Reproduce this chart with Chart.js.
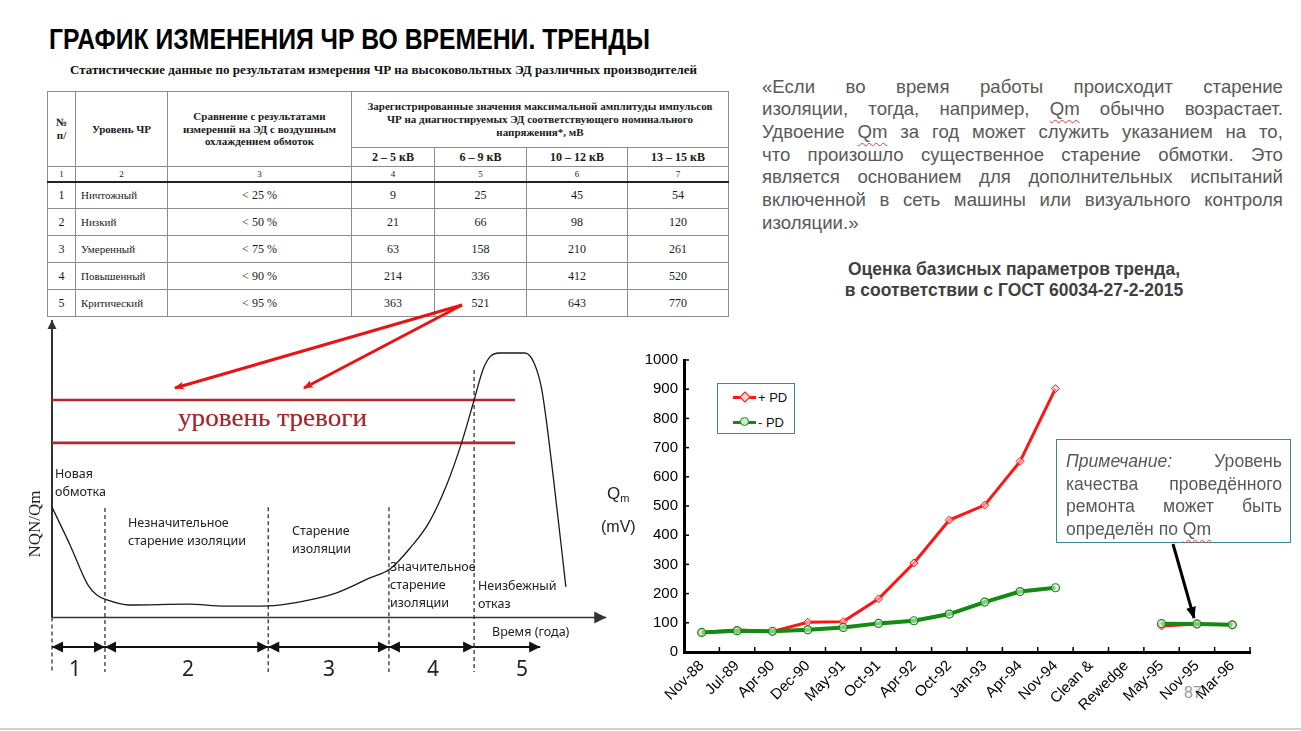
<!DOCTYPE html>
<html lang="ru"><head><meta charset="utf-8">
<script src="https://cdn.jsdelivr.net/npm/chart.js@4.4.1/dist/chart.umd.min.js"></script>
<style>
html,body{margin:0;padding:0;background:#fff}
#page{position:relative;width:1301px;height:731px;overflow:hidden;background:#fff;font-family:'Liberation Sans',Arial,sans-serif}
.abs{position:absolute;white-space:nowrap}
.fit{display:inline-block;transform-origin:0 0}
#title{left:49px;top:22px;font-weight:bold;font-size:29px;line-height:34px;font-family:'Liberation Sans Narrow','Liberation Sans',Arial,sans-serif;color:#000}
#cap{left:70px;top:62px;font:bold 13px/16px 'Liberation Serif','Times New Roman',serif;color:#111}
table.st{position:absolute;left:47px;top:91px;border-collapse:collapse;table-layout:fixed;font-family:'Liberation Serif','Times New Roman',serif;color:#1a1a1a}
table.st td{border:1px solid #8c8c8c;padding:0;text-align:center;vertical-align:middle;overflow:hidden;white-space:nowrap}
table.st .h{font-weight:bold;font-size:11px;line-height:12.8px}
table.st .kv{font-weight:bold;font-size:12px}
table.st .num td{font-size:9px;border-bottom:2px solid #222}
table.st .d td{font-size:12px}
table.st .d td.l{text-align:left;padding-left:5px;font-size:11px}
.q{position:absolute;color:#595959;font-size:18.6px}
.jl{display:flex;justify-content:space-between;white-space:nowrap}
.sp{text-decoration:underline wavy #e03c3c;text-decoration-thickness:1px;text-underline-offset:4px}
.it{font-style:italic}
#sub{left:814px;top:259px;width:400px;text-align:center;font:bold 17.5px/21px 'Liberation Sans',Arial,sans-serif;color:#404040}
#note{position:absolute;left:1056px;top:439px;width:233px;height:102px;border:1.6px solid #3b8a8e;background:#fff}
#legend{position:absolute;left:717px;top:383px;width:76px;height:49px;border:1.5px solid #3b8a8e;background:#fff;font-size:13px;color:#111}
.lg{position:absolute;left:15px;width:23px;height:3px}
.lgt{position:absolute;left:40px;line-height:14px}
.dl{position:absolute;font-family:'Noto Sans','Open Sans',sans-serif;font-size:12.5px;line-height:18px;color:#222;white-space:nowrap;z-index:3}
.sn{position:absolute;font-family:'Noto Sans','Liberation Sans',sans-serif;font-size:21px;line-height:24px;color:#222;z-index:3}
canvas{position:absolute}
</style></head><body><div id="page">

<div id="title" class="abs"><span class="fit" id="titleT">ГРАФИК ИЗМЕНЕНИЯ ЧР ВО ВРЕМЕНИ. ТРЕНДЫ</span></div>
<div id="cap" class="abs"><span class="fit" id="capT">Статистические данные по результатам измерения ЧР на высоковольтных ЭД различных производителей</span></div>

<table class="st" id="tbl">
<colgroup><col style="width:28px"><col style="width:92px"><col style="width:184px"><col style="width:83px"><col style="width:92px"><col style="width:101px"><col style="width:101px"></colgroup>
<tr style="height:56px"><td rowspan="2" class="h">№<br>п/</td><td rowspan="2" class="h">Уровень ЧР</td><td rowspan="2" class="h">Сравнение с результатами<br>измерений на ЭД с воздушным<br>охлаждением обмоток</td><td colspan="4" class="h">Зарегистрированные значения максимальной амплитуды импульсов<br>ЧР на диагностируемых ЭД соответствующего номинального<br>напряжения*, мВ</td></tr>
<tr style="height:19px" id="kvRow"></tr>
<tr style="height:15px" class="num" id="numRow"></tr>
</table>

<div class="q" id="quote" style="left:762px;top:75.6px;width:521px;line-height:22.7px"></div>
<div id="sub" class="abs">Оценка базисных параметров тренда,<br>в соответствии с ГОСТ 60034-27-2-2015</div>

<!-- left diagram -->
<canvas id="stages" width="590" height="380" style="left:20px;top:310px;width:590px;height:380px"></canvas>
<div class="abs" style="left:178px;top:403px;font:26px/30px 'Liberation Serif','Times New Roman',serif;color:#a3262c;text-shadow:0 0 1px rgba(163,38,44,0.5);z-index:3"><span class="fit" id="alarmT">уровень тревоги</span></div>
<div class="abs" style="left:35px;top:524px;transform:translate(-50%,-50%) rotate(-90deg);font:17px/20px 'Liberation Serif','Times New Roman',serif;color:#222;z-index:3">NQN/Qm</div>
<div class="dl" style="left:55px;top:465px">Новая<br>обмотка</div>
<div class="dl" style="left:128px;top:514px">Незначительное<br>старение изоляции</div>
<div class="dl" style="left:292px;top:522px">Старение<br>изоляции</div>
<div class="dl" style="left:390px;top:558px">Значительное<br>старение<br>изоляции</div>
<div class="dl" style="left:478px;top:577px">Неизбежный<br>отказ</div>
<div class="dl" style="left:492px;top:623px">Время (года)</div>
<div class="sn" style="left:69px;top:656px">1</div>
<div class="sn" style="left:182px;top:656px">2</div>
<div class="sn" style="left:323px;top:656px">3</div>
<div class="sn" style="left:427px;top:656px">4</div>
<div class="sn" style="left:516px;top:656px">5</div>

<!-- right chart -->
<div class="abs" style="left:607px;top:484px;font-size:17px;color:#222;line-height:20px">Q<sub style="font-size:11px;vertical-align:-3px">m</sub></div>
<div class="abs" style="left:601px;top:517px;font-size:16px;color:#222;line-height:20px">(mV)</div>
<div class="abs" style="left:1184px;top:684px;font-size:16px;color:#9a9a9a">87</div>
<canvas id="trend" width="630" height="370" style="left:630px;top:345px;width:630px;height:370px"></canvas>
<div id="legend">
  <div class="lg" style="top:12px;background:#ff1414"></div>
  <div style="position:absolute;left:23px;top:9px;width:6px;height:6px;border:1px solid #ff1414;background:#ffd0d0;transform:rotate(45deg)"></div>
  <div class="lgt" style="top:7px">+ PD</div>
  <div class="lg" style="top:37px;background:#138a13"></div>
  <div style="position:absolute;left:22px;top:33px;width:7px;height:7px;border:1.2px solid #138a13;border-radius:50%;background:#d0ecd0"></div>
  <div class="lgt" style="top:32px">- PD</div>
</div>
<div id="note"><div class="q" id="noteT" style="left:9px;top:10px;width:216px;line-height:22.7px;font-size:17.6px"></div></div>

<div class="abs" style="left:0;top:728px;width:1301px;height:2px;background:#d2d2d2"></div>

<svg class="abs" style="left:0;top:0;z-index:5;pointer-events:none" width="1301" height="731">
  <defs>
    <marker id="ra" markerWidth="10" markerHeight="8" refX="9" refY="4" orient="auto" markerUnits="userSpaceOnUse"><path d="M0,0 L10,4 L0,8 L2.5,4 Z" fill="#e81313"/></marker>
    <marker id="ba" markerWidth="12" markerHeight="10" refX="11" refY="5" orient="auto" markerUnits="userSpaceOnUse"><path d="M0,0 L12,5 L0,10 Z" fill="#000"/></marker>
  </defs>
  <line x1="462" y1="305" x2="175" y2="388" stroke="#e81313" stroke-width="3" marker-end="url(#ra)"/>
  <line x1="462" y1="305" x2="304" y2="388" stroke="#e81313" stroke-width="3" marker-end="url(#ra)"/>
  <line x1="1173" y1="544" x2="1194" y2="618" stroke="#000" stroke-width="3" marker-end="url(#ba)"/>
</svg>
</div>

<script>
// ---------- table data ----------
const kvHeaders = ['2 – 5 кВ','6 – 9 кВ','10 – 12 кВ','13 – 15 кВ'];
const colNumbers = ['1','2','3','4','5','6','7'];
const levelNames = ['Ничтожный','Низкий','Умеренный','Повышенный','Критический'];
const levelCompare = ['< 25 %','< 50 %','< 75 %','< 90 %','< 95 %'];
const kv2to5 = [9, 21, 63, 214, 363];
const kv6to9 = [25, 66, 158, 336, 521];
const kv10to12 = [45, 98, 210, 412, 643];
const kv13to15 = [54, 120, 261, 520, 770];

// ---------- trend chart data ----------
const categories = ['Nov-88','Jul-89','Apr-90','Dec-90','May-91','Oct-91','Apr-92','Oct-92','Jan-93','Apr-94','Nov-94','Clean &','Rewedge','May-95','Nov-95','Mar-96'];
const plusPD  = [67, 75, 70, 102, 104, 182, 305, 452, 503, 653, 902, null, null, 89, 96, 93];
const minusPD = [67, 73, 71, 76, 84, 98, 107, 130, 171, 207, 220, null, null, 97, 96, 93];
const yTickMin = 0, yTickMax = 1000, yTickStep = 100;

// ---------- life-stage diagram data (arbitrary units) ----------
const stageCurveX = [0,3.3,6.6,8.2,10.1,14.1,24.9,31.7,39.6,45.2,52.0,58.2,61.9,65.6,69.0,72.3,75.0,77.3,78.9,80.2,81.9,86.6,88.3,89.7,91.8,94.1];
const stageCurveY = [37.1,24.4,10.9,7.6,5.9,4.2,4.5,3.8,3.9,5.2,8.2,13.3,16.3,23.4,31.8,44.7,58.7,73.1,83.2,87.6,88.9,88.9,85.5,76.5,47.2,10.3];
const alarmLevels = [73.1, 58.7];
const alarmEnd = 84.8;
const stageBounds = [0, 9.7, 39.6, 61.7, 77.3];
const stageBoundTops = [0, 36.8, 37.1, 37.1, 83.2];
const stageBottom = -18.3;
const stageArrowY = -9.9;
const stageLastEnd = 89.4;

// ---------- texts ----------
const quoteLines = [
 '«Если во время работы происходит старение',
 'изоляции, тогда, например, Qm обычно возрастает.',
 'Удвоение Qm за год может служить указанием на то,',
 'что произошло существенное старение обмотки. Это',
 'является основанием для дополнительных испытаний',
 'включенной в сеть машины или визуального контроля',
 'изоляции.»'
];
const noteLines = [
 'Примечание: Уровень',
 'качества проведённого',
 'ремонта может быть',
 'определён по Qm'
];

// build table
const tbl = document.getElementById('tbl');
const kvRow = document.getElementById('kvRow');
kvHeaders.forEach(t => { const td = document.createElement('td'); td.className = 'kv'; td.textContent = t; kvRow.appendChild(td); });
const numRow = document.getElementById('numRow');
colNumbers.forEach(t => { const td = document.createElement('td'); td.textContent = t; numRow.appendChild(td); });
levelNames.forEach((n, i) => {
  const tr = document.createElement('tr'); tr.className = 'd'; tr.style.height = '27px';
  const cells = [String(i + 1), n, levelCompare[i], kv2to5[i], kv6to9[i], kv10to12[i], kv13to15[i]];
  cells.forEach((c, j) => { const td = document.createElement('td'); td.textContent = c; if (j === 1) td.className = 'l'; tr.appendChild(td); });
  tbl.appendChild(tr);
});

// justified lines
function buildLines(el, lines, lastLeft) {
  lines.forEach((ln, i) => {
    const div = document.createElement('div');
    const justify = !(lastLeft && i === lines.length - 1);
    if (justify) div.className = 'jl';
    const words = ln.split(' ');
    words.forEach((w, k) => {
      const s = document.createElement('span');
      if (w.startsWith('Qm')) { s.className = 'sp'; }
      if (w === 'Примечание:') s.className = 'it';
      s.textContent = w;
      div.appendChild(s);
      if (!justify && k < words.length - 1) div.appendChild(document.createTextNode(' '));
    });
    el.appendChild(div);
  });
}
buildLines(document.getElementById('quote'), quoteLines, true);
buildLines(document.getElementById('noteT'), noteLines, true);

function fit(id, w) { const el = document.getElementById(id); const n = el.getBoundingClientRect().width; el.style.transform = 'scaleX(' + (w / n) + ')'; }
fit('titleT', 601);
fit('capT', 627);
fit('alarmT', 189);

// ---------- trend chart ----------
const innerTicks = {
  id: 'innerTicks',
  afterDatasetsDraw(chart) {
    const { ctx, scales: { x, y } } = chart;
    ctx.save(); ctx.strokeStyle = '#000'; ctx.lineWidth = 1.5;
    y.ticks.forEach((t, i) => { const py = y.getPixelForTick(i); ctx.beginPath(); ctx.moveTo(y.right, py); ctx.lineTo(y.right + 5, py); ctx.stroke(); });
    const n = x.ticks.length;
    for (let i = 1; i <= n; i++) {
      const px = i === n ? x.right : (x.getPixelForTick(i - 1) + x.getPixelForTick(i)) / 2;
      ctx.beginPath(); ctx.moveTo(px, x.top); ctx.lineTo(px, x.top - 5); ctx.stroke();
    }
    ctx.restore();
  }
};
const baseFont = "'Liberation Sans', Arial, sans-serif";
new Chart(document.getElementById('trend'), {
  type: 'line',
  data: {
    labels: categories,
    datasets: [
      { label: '+ PD', data: plusPD, borderColor: '#ff1414', borderWidth: 3, pointStyle: 'rectRot', pointRadius: 4,
        pointBorderColor: '#ff1414', pointBackgroundColor: 'rgba(255,210,210,0.6)', pointBorderWidth: 1, order: 1, tension: 0 },
      { label: '- PD', data: minusPD, borderColor: '#138a13', borderWidth: 4, pointStyle: 'circle', pointRadius: 4,
        pointBorderColor: '#138a13', pointBackgroundColor: 'rgba(210,240,210,0.6)', pointBorderWidth: 1.2, order: 0, tension: 0 }
    ]
  },
  options: {
    responsive: false, animation: false, events: [],
    layout: { padding: { top: 10, right: 10, left: 0, bottom: 0 } },
    plugins: { legend: { display: false }, tooltip: { enabled: false } },
    scales: {
      x: {
        offset: true,
        grid: { display: false, drawTicks: false },
        border: { display: true, color: '#000', width: 3 },
        ticks: { autoSkip: false, minRotation: 45, maxRotation: 45, color: '#000', padding: 5, font: { size: 15, family: baseFont } },
        afterFit(s) { s.height = 63; }
      },
      y: {
        min: yTickMin, max: yTickMax,
        grid: { display: false, drawTicks: false },
        border: { display: true, color: '#000', width: 3 },
        ticks: { stepSize: yTickStep, color: '#000', padding: 6, font: { size: 15, family: baseFont }, callback: v => String(v) },
        afterFit(s) { s.width = 54; }
      }
    }
  },
  plugins: [innerTicks]
});

// ---------- stage diagram ----------
const arrowHeads = {
  id: 'arrowHeads',
  afterDatasetsDraw(chart) {
    const ctx = chart.ctx;
    chart.data.datasets.forEach((ds, i) => {
      if (!ds.heads) return;
      const pts = chart.getDatasetMeta(i).data;
      const L = ds.headLen || 10, W = ds.headW || 5;
      const draw = (tip, from) => {
        const dx = tip.x - from.x, dy = tip.y - from.y, d = Math.hypot(dx, dy) || 1;
        const ux = dx / d, uy = dy / d;
        ctx.beginPath(); ctx.moveTo(tip.x, tip.y);
        ctx.lineTo(tip.x - ux * L - uy * W, tip.y - uy * L + ux * W);
        ctx.lineTo(tip.x - ux * L + uy * W, tip.y - uy * L - ux * W);
        ctx.closePath(); ctx.fill();
      };
      ctx.save(); ctx.fillStyle = ds.headColor || ds.borderColor;
      if (ds.heads.includes('start')) draw(pts[0], pts[1]);
      if (ds.heads.includes('end')) draw(pts[pts.length - 1], pts[pts.length - 2]);
      ctx.restore();
    });
  }
};
const seg = (pts, extra) => Object.assign({ data: pts, showLine: true, pointRadius: 0, fill: false, clip: false, tension: 0 }, extra);
const stageSets = [];
stageSets.push(seg(stageCurveX.map((x, i) => ({ x, y: stageCurveY[i] })), { borderColor: '#1a1a1a', borderWidth: 1.3, cubicInterpolationMode: 'monotone' }));
alarmLevels.forEach(v => stageSets.push(seg([{ x: 0, y: v }, { x: alarmEnd, y: v }], { borderColor: '#b3262c', borderWidth: 2.6 })));
stageSets.push(seg([{ x: 0, y: 0 }, { x: 0, y: 100 }], { borderColor: '#333', borderWidth: 2, heads: ['end'], headLen: 9, headW: 4.5 }));
stageSets.push(seg([{ x: 0, y: 0 }, { x: 101.5, y: 0 }], { borderColor: '#333', borderWidth: 1.6, heads: ['end'], headLen: 12, headW: 6 }));
stageBounds.forEach((b, i) => stageSets.push(seg([{ x: b, y: stageBoundTops[i] }, { x: b, y: stageBottom }], { borderColor: '#333', borderWidth: 1.3, borderDash: [4, 3] })));
stageBounds.forEach((b, i) => {
  const end = i < stageBounds.length - 1 ? stageBounds[i + 1] : stageLastEnd;
  const heads = i < stageBounds.length - 1 ? ['start', 'end'] : ['end'];
  stageSets.push(seg([{ x: b, y: stageArrowY }, { x: end, y: stageArrowY }], { borderColor: '#111', borderWidth: 1.8, heads, headLen: 11, headW: 5.5 }));
});
new Chart(document.getElementById('stages'), {
  type: 'scatter',
  data: { datasets: stageSets },
  options: {
    responsive: false, animation: false, events: [],
    layout: { padding: { left: 32, right: 1, top: 10, bottom: 10 } },
    plugins: { legend: { display: false }, tooltip: { enabled: false } },
    scales: {
      x: { type: 'linear', min: 0, max: 102, display: false },
      y: { type: 'linear', min: -21, max: 100, display: false }
    }
  },
  plugins: [arrowHeads]
});
</script>
</body></html>
